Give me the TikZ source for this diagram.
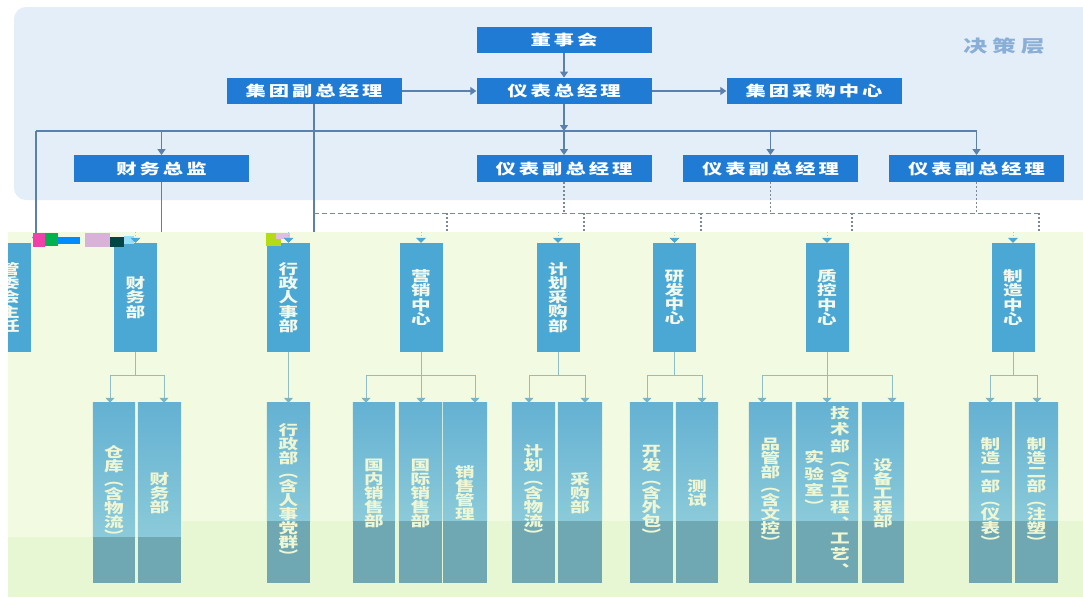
\documentclass[tikz,border=0pt]{standalone}
\usepackage{fontspec}
\newfontfamily\cjk[FakeStretch=1.4]{Noto Sans CJK SC}
\usetikzlibrary{arrows.meta}
\definecolor{panelc}{HTML}{E4EEF8}
\definecolor{topbox}{HTML}{1F7BD3}
\definecolor{topline}{HTML}{5B80AC}
\definecolor{dashc}{HTML}{7C8898}
\definecolor{lowbg}{HTML}{F2FBE1}
\definecolor{lowband}{HTML}{E7F7D3}
\definecolor{lvtwo}{HTML}{4BA7D3}
\definecolor{subtop}{HTML}{64B1D3}
\definecolor{submid}{HTML}{8BCAD9}
\definecolor{subband}{HTML}{6FA8B2}
\definecolor{subline}{HTML}{8EBFC8}
\definecolor{subarrow}{HTML}{78B5C8}
\definecolor{subtxt}{HTML}{EEF6D4}
\definecolor{lvtxt}{HTML}{F2F8EC}
\definecolor{decis}{HTML}{8AAED6}
\newcommand\spc[1]{\sptA#1\relax}
\def\sptA#1#2{#1\ifx#2\relax\else\hspace{3pt}\expandafter\sptA\expandafter#2\fi}
\newcommand\spcw[1]{\sptB#1\relax}
\def\sptB#1#2{#1\ifx#2\relax\else\hspace{5pt}\expandafter\sptB\expandafter#2\fi}
\pgfdeclarelayer{bg}
\pgfsetlayers{bg,main}
\tikzset{
  topbox/.style={fill=topbox, text=white, minimum width=175pt, minimum height=26.5pt,
    inner sep=0pt, font=\cjk\bfseries\fontsize{14.5}{16}\selectfont},
  lvbox/.style={fill=lvtwo, text=lvtxt, minimum width=43pt, minimum height=109pt,
    inner sep=0pt, align=center, font=\cjk\bfseries\fontsize{14}{14.2}\selectfont},
  subbox/.style={minimum width=43pt, minimum height=180pt,
    inner sep=0pt, align=center, text=subtxt, font=\cjk\bfseries\fontsize{14}{14}\selectfont},
  tl/.style={draw=topline, line width=1.2pt},
  ta/.style={tl, -{Triangle[width=8pt,length=6pt]}},
  dl/.style={draw=dashc, line width=1pt, dash pattern=on 5pt off 3pt},
  dt/.style={draw=dashc, line width=1.2pt, dash pattern=on 2pt off 2pt},
  stub/.style={draw=lvtwo!60, line width=0.8pt, dash pattern=on 1.5pt off 1.5pt,
    -{Triangle[width=10pt,length=5pt,fill=lvtwo,color=lvtwo]}},
  sl/.style={draw=subline, line width=1pt},
  sa/.style={draw=subline, line width=1pt, -{Triangle[width=9pt,length=5pt,fill=subarrow,color=subarrow]}},
}
\begin{document}
\begin{tikzpicture}[x=1pt,y=-1pt]
\useasboundingbox (0,0) rectangle (1083,597);
\begin{pgfonlayer}{bg}
\begin{scope}
\clip (0,0) rectangle (1083,597);
\fill[white] (0,0) rectangle (1083,597);
\fill[panelc, rounded corners=12pt] (14,7) rectangle (1100,200);
\fill[lowbg] (8,232) rectangle (1083,597);
\fill[lowband] (182,521) rectangle (1083,597);
\fill[lowband] (8,537) rectangle (182,597);
\end{scope}
\end{pgfonlayer}

% top level
\node[topbox] (dsh) at (564,40) {\spc{董事会}};
\node[topbox] (jtf) at (314,91) {\spc{集团副总经理}};
\node[topbox] (ybz) at (564,91) {\spc{仪表总经理}};
\node[topbox] (jtc) at (814,91) {\spc{集团采购中心}};
\node[topbox] (cwz) at (161.5,168.5) {\spc{财务总监}};
\node[topbox] (yf1) at (564,168.5) {\spc{仪表副总经理}};
\node[topbox] (yf2) at (770.5,168.5) {\spc{仪表副总经理}};
\node[topbox] (yf3) at (976.5,168.5) {\spc{仪表副总经理}};
\node[font=\cjk\bfseries\fontsize{17}{20}\selectfont, text=decis] (jcc) at (1004,46) {\spcw{决策层}};

% level 2
\begin{scope}
\clip (8,232) rectangle (1083,597);
\node[lvbox, minimum width=42pt] (gw) at (10,297.5) {管\\委\\会\\主\\任};
\end{scope}
\node[lvbox] (cw2) at (135.5,297.5) {财\\务\\部};
\node[lvbox] (xz) at (288.5,297.5) {行\\政\\人\\事\\部};
\node[lvbox] (yx) at (421,297.5) {营\\销\\中\\心};
\node[lvbox] (jh) at (558,297.5) {计\\划\\采\\购\\部};
\node[lvbox] (yf) at (674.5,297.5) {研\\发\\中\\心};
\node[lvbox] (zk) at (827,297.5) {质\\控\\中\\心};
\node[lvbox] (zz) at (1013,297.5) {制\\造\\中\\心};

% level 3
\node[subbox, minimum width=42pt] (ck) at (114,493) {仓\\库\\︵\\含\\物\\流\\︶};
\node[subbox] (cwb) at (159.5,493) {财\\务\\部};
\node[subbox] (xzb) at (288.5,493) {行\\政\\部\\︵\\含\\人\\事\\党\\群\\︶};
\node[subbox, minimum width=42pt] (gn) at (374,493) {国\\内\\销\\售\\部};
\node[subbox] (gj) at (420.5,493) {国\\际\\销\\售\\部};
\node[subbox, minimum width=44pt] (xs) at (465,493) {销\\售\\管\\理};
\node[subbox] (jhw) at (533.5,493) {计\\划\\︵\\含\\物\\流\\︶};
\node[subbox, minimum width=44pt] (cg) at (580,493) {采\\购\\部};
\node[subbox] (kf) at (651.5,493) {开\\发\\︵\\含\\外\\包\\︶};
\node[subbox, minimum width=42pt] (cs) at (697,493) {测\\试};
\node[subbox] (pg) at (770.5,493) {品\\管\\部\\︵\\含\\文\\控\\︶};
\node[subbox, minimum width=62pt] (js) at (827,493)
  {\begin{tabular}{@{}c@{\hspace{6pt}}c@{}}
   \raisebox{10pt}{\begin{tabular}{@{}c@{}}实\\验\\室\\︶\end{tabular}} &
   \begin{tabular}{@{}c@{}}技\\术\\部\\︵\\含\\工\\程\\︑\\工\\艺\\︑\end{tabular}
   \end{tabular}};
\node[subbox, minimum width=42pt] (sb) at (883,493) {设\\备\\工\\程\\部};
\node[subbox] (z1) at (990.5,493) {制\\造\\一\\部\\︵\\仪\\表\\︶};
\node[subbox] (z2) at (1036.5,493) {制\\造\\二\\部\\︵\\注\\塑\\︶};

\begin{pgfonlayer}{bg}
\foreach \n/\b in {ck/537,cwb/537,xzb/521,gn/521,gj/521,xs/521,jhw/521,cg/521,kf/521,cs/521,pg/521,js/521,sb/521,z1/521,z2/521}{
  \shade[top color=subtop, bottom color=submid] (\n.north west) rectangle (\n.east |- 0,\b);
  \fill[subband] (\n.west |- 0,\b) rectangle (\n.south east);
}
\end{pgfonlayer}

% top connectors
\coordinate (hL) at (36,131);
\coordinate (hR) at (976.5,131);
\draw[tl] (hL) -- (hR);
\draw[ta] (dsh.south) -- (ybz.north);
\draw[ta] (jtf.east) -- (ybz.west);
\draw[ta] (ybz.east) -- (jtc.west);
\draw[ta] (ybz.south) -- (ybz.south |- hL);
\draw[ta] (ybz.south |- hL) -- (yf1.north);
\draw[ta] (hL -| yf2.north) -- (yf2.north);
\draw[ta] (hL -| yf3.north) -- (yf3.north);
\draw[ta] (hL -| cwz.north) -- (cwz.north);
\draw[ta] (hL) -- (hL |- gw.north);
\draw[tl] (jtf.south) -- (jtf.south |- 0,232);
\draw[tl] (cwz.south) -- (cwz.south |- 0,232);

% dashed links
\coordinate (dL) at (314,213);
\coordinate (dR) at (1039,213);
\draw[dl] (dL) -- (dR);
\draw[dt] (yf1.south) -- (yf1.south |- dL);
\draw[dt] (yf2.south) -- (yf2.south |- dL);
\draw[dt] (yf3.south) -- (yf3.south |- dL);
\foreach \x in {447,584,701,852,1039}{\draw[dt] (\x,213) -- (\x,232);}

% glitch fragments
\fill[magenta!75] (33,233) rectangle (45,247);
\fill[teal!60!green] (45,233) rectangle (58,246);
\fill[blue!45!cyan] (58,237) rectangle (80,244);
\fill[violet!30] (85,233) rectangle (110,247);
\fill[teal!55!black] (110,237) rectangle (124,247);
\fill[cyan!40] (124,236) rectangle (134,244);
\fill[yellow!70!green] (266,233) rectangle (281,246);
\fill[violet!25] (276,233) rectangle (290,239);

% stubs into level 2
\foreach \n in {cw2,xz,yx,jh,yf,zk,zz}{\draw[stub] ([yshift=11pt]\n.north) -- (\n.north);}

% level 2 to level 3
\draw[sl] (cw2.south) -- (cw2.south |- 0,375);
\draw[sl] (110,375) -- (164,375);
\draw[sa] (110,375) -- (ck.north -| 110,0);
\draw[sa] (164,375) -- (cwb.north -| 164,0);

\draw[sa] (xz.south) -- (xzb.north);

\draw[sl] (yx.south) -- (yx.south |- 0,375);
\draw[sl] (366,375) -- (475,375);
\draw[sa] (366,375) -- (gn.north -| 366,0);
\draw[sa] (yx.south |- 0,375) -- (gj.north -| yx.south);
\draw[sa] (475,375) -- (xs.north -| 475,0);

\draw[sl] (jh.south) -- (jh.south |- 0,375);
\draw[sl] (529,375) -- (585,375);
\draw[sa] (529,375) -- (jhw.north -| 529,0);
\draw[sa] (585,375) -- (cg.north -| 585,0);

\draw[sl] (yf.south) -- (yf.south |- 0,375);
\draw[sl] (647,375) -- (702,375);
\draw[sa] (647,375) -- (kf.north -| 647,0);
\draw[sa] (702,375) -- (cs.north -| 702,0);

\draw[sl] (zk.south) -- (zk.south |- 0,375);
\draw[sl] (762,375) -- (892,375);
\draw[sa] (762,375) -- (pg.north -| 762,0);
\draw[sa] (zk.south |- 0,375) -- (js.north);
\draw[sa] (892,375) -- (sb.north -| 892,0);

\draw[sl] (zz.south) -- (zz.south |- 0,375);
\draw[sl] (990,375) -- (1037,375);
\draw[sa] (990,375) -- (z1.north -| 990,0);
\draw[sa] (1037,375) -- (z2.north -| 1037,0);
\end{tikzpicture}
\end{document}
